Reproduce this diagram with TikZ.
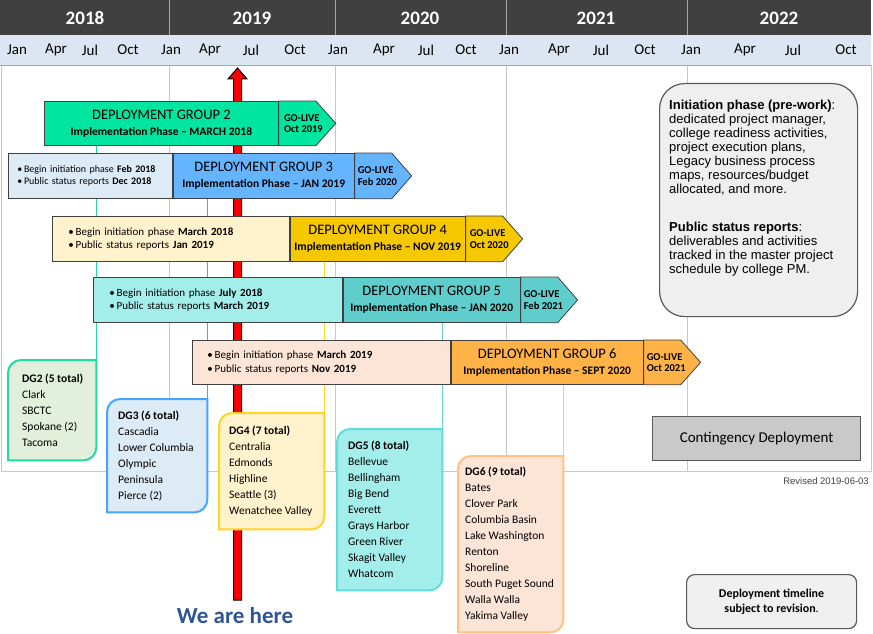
\documentclass[tikz,border=0pt]{standalone}
\usepackage{fontspec}
\setmainfont{Carlito}
\newfontfamily\arialfont{Liberation Sans}
\usetikzlibrary{calc}
\pgfdeclarelayer{background}
\pgfsetlayers{background,main}

\definecolor{hdrdark}{HTML}{404040}
\definecolor{hdrmonth}{HTML}{DCE6F2}
\definecolor{hdrline}{HTML}{A6A6A6}
\definecolor{gridgray}{HTML}{C8C8C8}
\definecolor{barline}{HTML}{404040}
\definecolor{dgtwo}{HTML}{00E6A0}
\definecolor{dgtwolight}{HTML}{E2EFDA}
\definecolor{dgtwoline}{HTML}{1FDDA0}
\definecolor{dgthree}{HTML}{64B4FF}
\definecolor{dgthreelight}{HTML}{DDEBF7}
\definecolor{dgthreeline}{HTML}{45A5FF}
\definecolor{dgfour}{HTML}{F5C800}
\definecolor{dgfourlight}{HTML}{FFF2CC}
\definecolor{dgfourline}{HTML}{FFD427}
\definecolor{dgfive}{HTML}{5FCDCB}
\definecolor{dgfivelight}{HTML}{A3EEEA}
\definecolor{dgfiveline}{HTML}{62DCDA}
\definecolor{dgsix}{HTML}{FFB347}
\definecolor{dgsixlight}{HTML}{FCE4D6}
\definecolor{dgsixline}{HTML}{FFC27F}
\definecolor{herecol}{HTML}{2F5597}
\definecolor{infofill}{HTML}{EFEFEF}
\definecolor{boxline}{HTML}{595959}
\definecolor{contgray}{HTML}{C9C9C9}
\definecolor{notefill}{HTML}{F0F0F0}

\newcommand{\barsub}[1]{{\bfseries\fontsize{11.5}{14}\selectfont #1}}

\begin{document}
\begin{tikzpicture}[x=1pt, y=-1pt,
  yearlbl/.style={text=white, inner sep=0pt, font=\bfseries\fontsize{19}{20}\selectfont},
  monthlbl/.style={inner sep=0pt, font=\fontsize{15}{16}\selectfont},
  gridline/.style={draw=gridgray, line width=0.8pt},
  prebar/.style={draw=barline, line width=0.8pt, anchor=north west, align=left, inner ysep=0pt},
  mainbar/.style={draw=barline, line width=0.8pt, anchor=north west, align=center, inner sep=0pt, font=\fontsize{14.5}{16}\selectfont},
  livebar/.style={draw=barline, line width=0.8pt},
  livetext/.style={anchor=west, align=left, inner sep=0pt, font=\bfseries\fontsize{10.5}{11.5}\selectfont},
  dgbox/.style={anchor=north west, inner sep=0pt},
  dglist/.style={anchor=west, align=left, inner sep=0pt, font=\fontsize{11.5}{16}\selectfont},
  dgline/.style={line width=1.5pt},
  dgborder/.style={line width=2pt},
]
\useasboundingbox (0,0) rectangle (873,634);

% header
\fill[hdrdark] (0,0) rectangle (871,35);
\fill[hdrmonth] (0,35) rectangle (871,65);
\draw[hdrline] (169,0) -- (169,35);
\draw[hdrline] (335,0) -- (335,35);
\draw[hdrline] (506,0) -- (506,35);
\draw[hdrline] (687,0) -- (687,35);
\draw[hdrline] (0,65) -- (871,65);
\node[yearlbl] (yr2018) at (85,18) {2018};
\node[yearlbl] (yr2019) at (252,18) {2019};
\node[yearlbl] (yr2020) at (420,18) {2020};
\node[yearlbl] (yr2021) at (596,18) {2021};
\node[yearlbl] (yr2022) at (779,18) {2022};
\node[monthlbl] (jan18) at (17,50) {Jan};
\node[monthlbl] (apr18) at (56,50) {Apr};
\node[monthlbl] (jul18) at (90,50) {Jul};
\node[monthlbl] (oct18) at (128,50) {Oct};
\node[monthlbl] (jan19) at (171,50) {Jan};
\node[monthlbl] (apr19) at (210,50) {Apr};
\node[monthlbl] (jul19) at (251,50) {Jul};
\node[monthlbl] (oct19) at (295,50) {Oct};
\node[monthlbl] (jan20) at (338,50) {Jan};
\node[monthlbl] (apr20) at (384,50) {Apr};
\node[monthlbl] (jul20) at (426,50) {Jul};
\node[monthlbl] (oct20) at (466,50) {Oct};
\node[monthlbl] (jan21) at (509,50) {Jan};
\node[monthlbl] (apr21) at (559,50) {Apr};
\node[monthlbl] (jul21) at (601,50) {Jul};
\node[monthlbl] (oct21) at (645,50) {Oct};
\node[monthlbl] (jan22) at (691,50) {Jan};
\node[monthlbl] (apr22) at (745,50) {Apr};
\node[monthlbl] (jul22) at (793,50) {Jul};
\node[monthlbl] (oct22) at (846,50) {Oct};

% deployment groups
\node[mainbar, fill=dgtwo, minimum width=234pt, minimum height=44pt] (dg2main) at (44,101) {DEPLOYMENT GROUP 2\\\barsub{Implementation Phase – MARCH 2018}};
\draw[livebar, fill=dgtwo] (dg2main.north east) -- ++(37,0) -- ($(dg2main.east)+(57,0)$) -- ($(dg2main.south east)+(37,0)$) -- (dg2main.south east) -- cycle;
\node[livetext] (dg2live) at ($(dg2main.east)+(5,0)$) {GO-LIVE\\Oct 2019};

\node[prebar, fill=dgthreelight, minimum width=164pt, minimum height=45pt, text width=146pt, inner xsep=9pt, font=\fontsize{10}{12.5}\selectfont] (dg3pre) at (8,153) {•\,Begin initiation phase \textbf{Feb 2018}\\•\,Public status reports \textbf{Dec 2018}};
\node[mainbar, fill=dgthree, minimum width=181pt, minimum height=45pt] (dg3main) at (dg3pre.north east) {DEPLOYMENT GROUP 3\\\barsub{Implementation Phase – JAN 2019}};
\draw[livebar, fill=dgthree] (dg3main.north east) -- ++(37,0) -- ($(dg3main.east)+(57,0)$) -- ($(dg3main.south east)+(37,0)$) -- (dg3main.south east) -- cycle;
\node[livetext] (dg3live) at ($(dg3main.east)+(3,0)$) {GO-LIVE\\Feb 2020};

\node[prebar, fill=dgfourlight, minimum width=237pt, minimum height=45pt, text width=205pt, inner xsep=16pt, font=\fontsize{11}{13.5}\selectfont] (dg4pre) at (52,216) {•\,Begin initiation phase \textbf{March 2018}\\•\,Public status reports \textbf{Jan 2019}};
\node[mainbar, fill=dgfour, minimum width=175pt, minimum height=45pt] (dg4main) at (dg4pre.north east) {DEPLOYMENT GROUP 4\\\barsub{Implementation Phase – NOV 2019}};
\draw[livebar, fill=dgfour] (dg4main.north east) -- ++(37,0) -- ($(dg4main.east)+(57,0)$) -- ($(dg4main.south east)+(37,0)$) -- (dg4main.south east) -- cycle;
\node[livetext] (dg4live) at ($(dg4main.east)+(4,0)$) {GO-LIVE\\Oct 2020};

\node[prebar, fill=dgfivelight, minimum width=249pt, minimum height=45pt, text width=217pt, inner xsep=16pt, font=\fontsize{11}{13.5}\selectfont] (dg5pre) at (93,277) {•\,Begin initiation phase \textbf{July 2018}\\•\,Public status reports \textbf{March 2019}};
\node[mainbar, fill=dgfive, minimum width=177pt, minimum height=45pt] (dg5main) at (dg5pre.north east) {DEPLOYMENT GROUP 5\\\barsub{Implementation Phase – JAN 2020}};
\draw[livebar, fill=dgfive] (dg5main.north east) -- ++(37,0) -- ($(dg5main.east)+(57,0)$) -- ($(dg5main.south east)+(37,0)$) -- (dg5main.south east) -- cycle;
\node[livetext] (dg5live) at ($(dg5main.east)+(3,0)$) {GO-LIVE\\Feb 2021};

\node[prebar, fill=dgsixlight, minimum width=258pt, minimum height=44pt, text width=228pt, inner xsep=15pt, font=\fontsize{11}{13.5}\selectfont] (dg6pre) at (192,340) {•\,Begin initiation phase \textbf{March 2019}\\•\,Public status reports \textbf{Nov 2019}};
\node[mainbar, fill=dgsix, minimum width=192pt, minimum height=44pt] (dg6main) at (dg6pre.north east) {DEPLOYMENT GROUP 6\\\barsub{Implementation Phase – SEPT 2020}};
\draw[livebar, fill=dgsix] (dg6main.north east) -- ++(37,0) -- ($(dg6main.east)+(57,0)$) -- ($(dg6main.south east)+(37,0)$) -- (dg6main.south east) -- cycle;
\node[livetext] (dg6live) at ($(dg6main.east)+(3,0)$) {GO-LIVE\\Oct 2021};

% college lists
\node[dgbox, minimum width=88pt, minimum height=100pt] (dg2box) at (8,360) {};
\node[dgbox, minimum width=100pt, minimum height=113pt] (dg3box) at (107,399) {};
\node[dgbox, minimum width=105pt, minimum height=116pt] (dg4box) at (219,413) {};
\node[dgbox, minimum width=105pt, minimum height=161pt] (dg5box) at (337,429) {};
\node[dgbox, minimum width=105pt, minimum height=176pt] (dg6box) at (458,456) {};
\node[dglist] (dg2list) at ($(dg2box.west)+(14,0)$) {\textbf{DG2 (5 total)}\\Clark\\SBCTC\\Spokane (2)\\Tacoma};
\node[dglist] (dg3list) at ($(dg3box.west)+(11,0)$) {\textbf{DG3 (6 total)}\\Cascadia\\Lower Columbia\\Olympic\\Peninsula\\Pierce (2)};
\node[dglist] (dg4list) at ($(dg4box.west)+(10,0)$) {\textbf{DG4 (7 total)}\\Centralia\\Edmonds\\Highline\\Seattle (3)\\Wenatchee Valley};
\node[dglist] (dg5list) at ($(dg5box.west)+(11,0)$) {\textbf{DG5 (8 total)}\\Bellevue\\Bellingham\\Big Bend\\Everett\\Grays Harbor\\Green River\\Skagit Valley\\Whatcom};
\node[dglist] (dg6list) at ($(dg6box.west)+(7,0)$) {\textbf{DG6 (9 total)}\\Bates\\Clover Park\\Columbia Basin\\Lake Washington\\Renton\\Shoreline\\South Puget Sound\\Walla Walla\\Yakima Valley};

% notes
\node[anchor=north west, minimum width=198pt, minimum height=233pt, rounded corners=25pt, fill=infofill, draw=boxline, line width=1.2pt] (infobox) at (659,83) {};
\node[anchor=north west, align=left, inner sep=0pt, font=\arialfont\fontsize{13}{14}\selectfont] (infotext) at ($(infobox.north west)+(10,17)$) {\textbf{Initiation phase (pre-work)}:\\dedicated project manager,\\college readiness activities,\\project execution plans,\\Legacy business process\\maps, resources/budget\\allocated, and more.\\[23.7pt]\textbf{Public status reports}:\\deliverables and activities\\tracked in the master project\\schedule by college PM.};
\node[anchor=north west, minimum width=208pt, minimum height=44pt, fill=contgray, draw=boxline, line width=1.2pt, font=\fontsize{15}{16}\selectfont] (contingency) at (652,416) {Contingency Deployment};
\node[anchor=east, inner sep=0pt, text=black!75, font=\arialfont\fontsize{9.5}{10}\selectfont] (revised) at (869,481) {Revised 2019-06-03};
\node[anchor=north west, minimum width=170pt, minimum height=54pt, rounded corners=8pt, fill=notefill, draw=boxline, line width=1.2pt, align=center, font=\fontsize{12}{15}\selectfont] (note) at (686,574) {\textbf{Deployment timeline}\\\textbf{subject to revision}.};
\node[inner sep=0pt, text=herecol, font=\bfseries\fontsize{23}{24}\selectfont] (wearehere) at (235,616) {We are here};

\begin{pgfonlayer}{background}
\draw[gridline] (169,65) -- (169,471);
\draw[gridline] (335,65) -- (335,471);
\draw[gridline] (506,65) -- (506,471);
\draw[gridline] (687,65) -- (687,471);
\draw[gridline] (1,65) -- (1,471) -- (871,471) -- (871,65);
\draw[dgline, dgtwoline] (dg2box.north east) -- (dg2box.north east |- dg2main.south);
\draw[dgline, dgthreeline] (dg3box.north east) -- (dg3box.north east |- dg3main.south);
\draw[dgline, dgfourline] (dg4box.north east) -- (dg4box.north east |- dg4main.south);
\draw[dgline, dgfiveline] (dg5box.north east) -- (dg5box.north east |- dg5main.south);
\draw[dgline, dgsixline] (dg6box.north east) -- (dg6box.north east |- dg6main.south);
% we are here arrow
\draw[fill=red, line width=1pt] (237.5,68) -- (247,79) -- (241.5,79) -- (241.5,600) -- (233.5,600) -- (233.5,79) -- (228,79) -- cycle;
\draw[dgborder, draw=dgtwoline, fill=dgtwolight] (dg2box.west) [rounded corners=13pt] -- (dg2box.north west) -- (dg2box.north) [sharp corners] -- (dg2box.north east) -- (dg2box.east) [rounded corners=13pt] -- (dg2box.south east) -- (dg2box.south) [sharp corners] -- (dg2box.south west) -- cycle;
\draw[dgborder, draw=dgthreeline, fill=dgthreelight] (dg3box.west) [rounded corners=13pt] -- (dg3box.north west) -- (dg3box.north) [sharp corners] -- (dg3box.north east) -- (dg3box.east) [rounded corners=13pt] -- (dg3box.south east) -- (dg3box.south) [sharp corners] -- (dg3box.south west) -- cycle;
\draw[dgborder, draw=dgfourline, fill=dgfourlight] (dg4box.west) [rounded corners=13pt] -- (dg4box.north west) -- (dg4box.north) [sharp corners] -- (dg4box.north east) -- (dg4box.east) [rounded corners=13pt] -- (dg4box.south east) -- (dg4box.south) [sharp corners] -- (dg4box.south west) -- cycle;
\draw[dgborder, draw=dgfiveline, fill=dgfivelight] (dg5box.west) [rounded corners=13pt] -- (dg5box.north west) -- (dg5box.north) [sharp corners] -- (dg5box.north east) -- (dg5box.east) [rounded corners=13pt] -- (dg5box.south east) -- (dg5box.south) [sharp corners] -- (dg5box.south west) -- cycle;
\draw[dgborder, draw=dgsixline, fill=dgsixlight] (dg6box.west) [rounded corners=13pt] -- (dg6box.north west) -- (dg6box.north) [sharp corners] -- (dg6box.north east) -- (dg6box.east) [rounded corners=13pt] -- (dg6box.south east) -- (dg6box.south) [sharp corners] -- (dg6box.south west) -- cycle;
\end{pgfonlayer}
\end{tikzpicture}
\end{document}
